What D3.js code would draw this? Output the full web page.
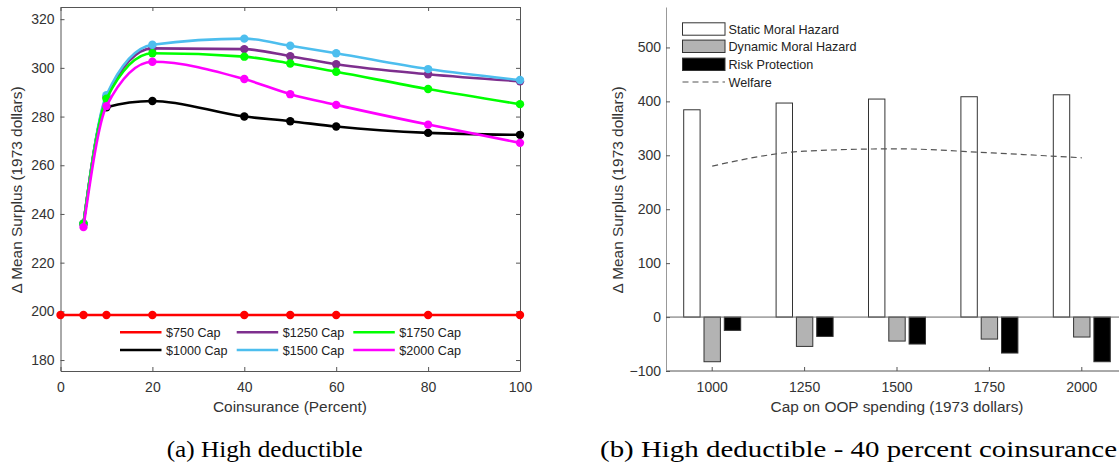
<!DOCTYPE html>
<html>
<head>
<meta charset="utf-8">
<script src="https://cdn.jsdelivr.net/npm/d3@7"></script>
<style>
  body { margin: 0; background: #fff; }
  svg { display: block; }
  .tick text { font-family: Arial, "Liberation Sans", Helvetica, sans-serif; font-size: 14px; fill: #333; }
  .lbl { font-family: Arial, "Liberation Sans", Helvetica, sans-serif; font-size: 15.4px; fill: #333; }
  .leg { font-family: Arial, "Liberation Sans", Helvetica, sans-serif; font-size: 12.6px; fill: #222; }
  .cap { font-family: "Times New Roman", "Liberation Serif", Times, serif; font-size: 23px; fill: #000; }
</style>
</head>
<body>
<div id="chart"></div>
<script>
// ---- data: panel (a), coinsurance vs surplus by OOP cap
var coins = [5, 10, 20, 40, 50, 60, 80, 100];
var capNames = ["$750 Cap", "$1000 Cap", "$1250 Cap", "$1500 Cap", "$1750 Cap", "$2000 Cap"];
var capColors = ["#ff0000", "#000000", "#7e2f8e", "#4dbeee", "#00ff00", "#ff00ff"];
var cap750x = [0, 5, 10, 20, 40, 50, 60, 80, 100];
var cap750 = [198.5, 198.5, 198.5, 198.5, 198.5, 198.5, 198.5, 198.5, 198.5];
var cap1000 = [236, 283.8, 286.4, 280, 278.1, 275.9, 273.3, 272.5];
var cap1250 = [236, 288, 308, 307.7, 304.8, 301.5, 297.4, 294.5];
var cap1500 = [236, 288.8, 309.5, 312, 309.1, 306, 299.5, 295];
var cap1750 = [236, 287.3, 306, 304.6, 301.8, 298.4, 291.3, 285.1];
var cap2000 = [234.6, 284.3, 302.5, 295.4, 289.2, 284.8, 276.7, 269.2];
var xTicksA = [0, 20, 40, 60, 80, 100];
var yTicksA = [180, 200, 220, 240, 260, 280, 300, 320];

// ---- data: panel (b), decomposition at 40 percent coinsurance
var caps = ["1000", "1250", "1500", "1750", "2000"];
var barNames = ["Static Moral Hazard", "Dynamic Moral Hazard", "Risk Protection"];
var barFills = ["#ffffff", "#b3b3b3", "#000000"];
var staticMH = [384.4, 396.9, 404.3, 408.6, 412.2];
var dynamicMH = [-82.8, -54.4, -44.5, -40.8, -37];
var riskProt = [-24.7, -35.9, -50, -66.7, -82.8];
var welfare = [280, 307.7, 312, 304.6, 295.4];
var yTicksB = [-100, 0, 100, 200, 300, 400, 500];

var svg = d3.select("#chart").append("svg").attr("width", 1119).attr("height", 468);

// ================= panel (a) =================
var ga = svg.append("g");
var xa = d3.scaleLinear().domain([0, 100]).range([60.5, 520]);
var ya = d3.scaleLinear().domain([175.5, 325]).range([371, 7]);

var axisCol = "#555";
ga.append("g").attr("transform", "translate(0,371)")
  .call(d3.axisBottom(xa).tickValues(xTicksA).tickSizeInner(-4).tickSizeOuter(0).tickPadding(11));
ga.append("g").attr("transform", "translate(0,7)")
  .call(d3.axisTop(xa).tickValues(xTicksA).tickSizeInner(-4).tickSizeOuter(0).tickFormat(""));
ga.append("g").attr("transform", "translate(60.5,0)")
  .call(d3.axisLeft(ya).tickValues(yTicksA).tickSizeInner(-4).tickSizeOuter(0).tickPadding(6));
ga.append("g").attr("transform", "translate(520,0)")
  .call(d3.axisRight(ya).tickValues(yTicksA).tickSizeInner(-4).tickSizeOuter(0).tickFormat(""));
ga.selectAll(".domain, .tick line").attr("stroke", axisCol);

var seriesA = [
  {x: cap750x, y: cap750},
  {x: coins, y: cap1000},
  {x: coins, y: cap1250},
  {x: coins, y: cap1500},
  {x: coins, y: cap1750},
  {x: coins, y: cap2000}
];
var lineA = d3.line().x(function(d){ return xa(d[0]); }).y(function(d){ return ya(d[1]); })
  .curve(d3.curveMonotoneX);

seriesA.forEach(function(s, i){
  var pts = s.x.map(function(v, j){ return [v, s.y[j]]; });
  var g = ga.append("g");
  g.append("path").attr("d", lineA(pts)).attr("fill", "none")
    .attr("stroke", capColors[i]).attr("stroke-width", 2.6);
  g.selectAll("circle").data(pts).enter().append("circle")
    .attr("cx", function(d){ return xa(d[0]); })
    .attr("cy", function(d){ return ya(d[1]); })
    .attr("r", 4.2).attr("fill", capColors[i]);
});

// legend, 3 columns x 2 rows, column-major
var legA = ga.append("g");
capNames.forEach(function(n, i){
  var col = Math.floor(i / 2), row = i % 2;
  var lx = [120, 236.7, 353.3][col], ly = [332.3, 350][row];
  legA.append("line").attr("x1", lx).attr("x2", lx + 41.5).attr("y1", ly).attr("y2", ly)
    .attr("stroke", capColors[i]).attr("stroke-width", 2.6);
  legA.append("text").attr("class", "leg").attr("x", lx + 46).attr("y", ly + 4.5).text(n);
});

ga.append("text").attr("class", "lbl").attr("x", 290).attr("y", 412)
  .attr("text-anchor", "middle").text("Coinsurance (Percent)");
ga.append("text").attr("class", "lbl").attr("transform", "translate(22,190) rotate(-90)")
  .attr("text-anchor", "middle").text("\u0394 Mean Surplus (1973 dollars)");

// ================= panel (b) =================
var gb = svg.append("g");
var xb = d3.scaleBand().domain(caps).range([666, 1128]);
var yb = d3.scaleLinear().domain([-100, 575]).range([371, 7]);

var bx = gb.append("g").attr("transform", "translate(0,371)")
  .call(d3.axisBottom(xb).tickSizeInner(-4).tickSizeOuter(0).tickPadding(11));
bx.select(".domain").attr("d", "M666,0H1119");
var by = gb.append("g").attr("transform", "translate(666,0)")
  .call(d3.axisLeft(yb).tickValues(yTicksB).tickSizeInner(-4).tickSizeOuter(0).tickPadding(5));
bx.selectAll(".domain, .tick line").attr("stroke", "#555");
by.selectAll(".tick line").attr("stroke", "#555");
by.select(".domain").attr("stroke", "#999");

var barSeries = [staticMH, dynamicMH, riskProt];
var offsets = [-20.3, 0, 20.3];
var bw = 16.4;
var barsG = gb.append("g");
barSeries.forEach(function(vals, k){
  barsG.selectAll(null).data(vals).enter().append("rect")
    .attr("x", function(d, j){ return xb(caps[j]) + xb.bandwidth() / 2 + offsets[k] - bw / 2; })
    .attr("y", function(d){ return yb(Math.max(0, d)); })
    .attr("width", bw)
    .attr("height", function(d){ return Math.abs(yb(d) - yb(0)); })
    .attr("fill", barFills[k]).attr("stroke", "#333").attr("stroke-width", 1);
});
// baseline
gb.append("line").attr("x1", 666).attr("x2", 1119).attr("y1", yb(0)).attr("y2", yb(0))
  .attr("stroke", "#666").attr("stroke-width", 1);

var lineB = d3.line().x(function(d, j){ return xb(caps[j]) + xb.bandwidth() / 2; })
  .y(function(d){ return yb(d); }).curve(d3.curveMonotoneX);
gb.append("path").attr("d", lineB(welfare)).attr("fill", "none")
  .attr("stroke", "#555").attr("stroke-width", 1.2).attr("stroke-dasharray", "6,4");

// legend
var legB = gb.append("g");
var rowsB = [29, 46.3, 64.3];
barNames.forEach(function(n, k){
  legB.append("rect").attr("x", 682.5).attr("y", rowsB[k] - 6.2).attr("width", 42.5).attr("height", 12.4)
    .attr("fill", barFills[k]).attr("stroke", "#333").attr("stroke-width", 1);
  legB.append("text").attr("class", "leg")
    .attr("x", 728.5).attr("y", rowsB[k] + 4.5).text(n);
});
legB.append("line").attr("x1", 682.5).attr("x2", 725).attr("y1", 82).attr("y2", 82)
  .attr("stroke", "#555").attr("stroke-width", 1.2).attr("stroke-dasharray", "6,4");
legB.append("text").attr("class", "leg")
  .attr("x", 728.5).attr("y", 86.5).text("Welfare");

gb.append("text").attr("class", "lbl").attr("x", 897).attr("y", 412)
  .attr("text-anchor", "middle").text("Cap on OOP spending (1973 dollars)");
gb.append("text").attr("class", "lbl").attr("transform", "translate(623,190) rotate(-90)")
  .attr("text-anchor", "middle").text("\u0394 Mean Surplus (1973 dollars)");

// ================= captions =================
svg.append("text").attr("class", "cap").attr("x", 166.7).attr("y", 457)
  .attr("textLength", 196).attr("lengthAdjust", "spacingAndGlyphs").text("(a) High deductible");
svg.append("text").attr("class", "cap").attr("x", 600).attr("y", 457)
  .attr("textLength", 517).attr("lengthAdjust", "spacingAndGlyphs").text("(b) High deductible - 40 percent coinsurance");
</script>
</body>
</html>
